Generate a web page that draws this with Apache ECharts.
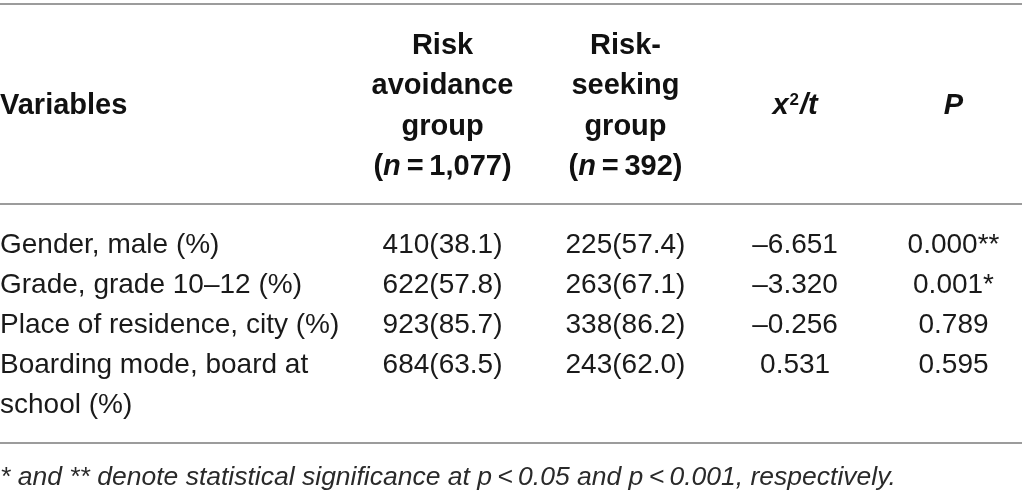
<!DOCTYPE html>
<html>
<head>
<meta charset="utf-8">
<script src="https://cdn.jsdelivr.net/npm/echarts@6/dist/echarts.min.js"></script>
<style>
  html, body { margin: 0; padding: 0; background: #fff; }
  #main { width: 1022px; height: 501px; }
</style>
</head>
<body>
<div id="main"></div>
<script>
// table content
const headers = [
    ['Variables'],
    ['Risk', 'avoidance', 'group', '({i|n}\u2009=\u20091,077)'],
    ['Risk-', 'seeking', 'group', '({i|n}\u2009=\u2009392)'],
    ['{i|x}{sup|2}{i|/t}'],
    ['{i|P}']
];
const variables = [
    ['Gender, male (%)'],
    ['Grade, grade 10\u201312 (%)'],
    ['Place of residence, city (%)'],
    ['Boarding mode, board at', 'school (%)']
];
const avoidance = ['410(38.1)', '622(57.8)', '923(85.7)', '684(63.5)'];
const seeking = ['225(57.4)', '263(67.1)', '338(86.2)', '243(62.0)'];
const chiT = ['\u20136.651', '\u20133.320', '\u20130.256', '0.531'];
const pValues = ['0.000**', '0.001*', '0.789', '0.595'];
const footnote = '* and ** denote statistical significance at {p|p}\u2009<\u20090.05 and {p|p}\u2009<\u20090.001, respectively.';

// layout: column anchors in % of width, rows in text-line units (40px)
const colAnchor = [0, 43.3, 61.2, 77.8, 93.3];
const lineUnit = 40;
const headerMid = 2.66;
const headerStep = 1.01;
const bodyStart = 6.12;
const rules = [0.1, 5.1, 11.08];
const footLine = 11.93;

let cells = [];
let addCell = (col, line, text, kind) => {
    cells.push({ value: [colAnchor[col], line], text: text, kind: kind, col: col });
};
headers.forEach((lines, c) => {
    let start = headerMid - (lines.length - 1) * headerStep / 2;
    lines.forEach((t, k) => addCell(c, start + k * headerStep, t, 'head'));
});
let line = bodyStart;
variables.forEach((v, i) => {
    v.forEach((t, k) => addCell(0, line + k, t, 'body'));
    addCell(1, line, avoidance[i], 'body');
    addCell(2, line, seeking[i], 'body');
    addCell(3, line, chiT[i], 'body');
    addCell(4, line, pValues[i], 'body');
    line += v.length;
});
cells.push({ value: [0, footLine], text: footnote, kind: 'foot', col: 0 });

const FONT = '"Liberation Sans", Arial, Helvetica, sans-serif';
const styles = {
    head: { fontSize: 29, fontWeight: 'bold', fontStyle: 'normal', fill: '#111' },
    body: { fontSize: 28, fontWeight: 'normal', fontStyle: 'normal', fill: '#1a1a1a' },
    foot: { fontSize: 26.5, fontWeight: 'normal', fontStyle: 'italic', fill: '#2a2a2a' }
};

let myChart = echarts.init(document.getElementById('main'), null, { renderer: 'canvas' });
myChart.setOption({
    animation: false,
    backgroundColor: '#fff',
    grid: { left: 0, right: 0, top: 0, bottom: 0 },
    xAxis: { type: 'value', min: 0, max: 100, show: false },
    yAxis: { type: 'value', min: 0, max: 501 / lineUnit, inverse: true, show: false },
    series: [{
        type: 'custom',
        coordinateSystem: 'cartesian2d',
        data: cells,
        renderItem: function (params, api) {
            let cell = cells[params.dataIndex];
            let pt = api.coord([api.value(0), api.value(1)]);
            let s = styles[cell.kind];
            return {
                type: 'text',
                x: pt[0],
                y: pt[1],
                style: {
                    text: cell.text,
                    fontFamily: FONT,
                    fontSize: s.fontSize,
                    fontWeight: s.fontWeight,
                    fontStyle: s.fontStyle,
                    fill: s.fill,
                    align: cell.col === 0 ? 'left' : 'center',
                    verticalAlign: 'middle',
                    rich: {
                        i: { fontFamily: FONT, fontSize: s.fontSize, fontWeight: 'bold', fontStyle: 'italic', fill: s.fill },
                        sup: { fontFamily: FONT, fontSize: 17, fontWeight: 'bold', fill: s.fill, verticalAlign: 'top', padding: [0, 1, 0, 1] },
                        p: { fontFamily: FONT, fontSize: s.fontSize, fontWeight: 'normal', fontStyle: 'italic', fill: s.fill }
                    }
                }
            };
        },
        markLine: {
            silent: true,
            symbol: 'none',
            label: { show: false },
            lineStyle: { color: '#9c9c9c', width: 2, type: 'solid' },
            data: rules.map(v => ({ yAxis: v }))
        }
    }]
});
</script>
</body>
</html>
